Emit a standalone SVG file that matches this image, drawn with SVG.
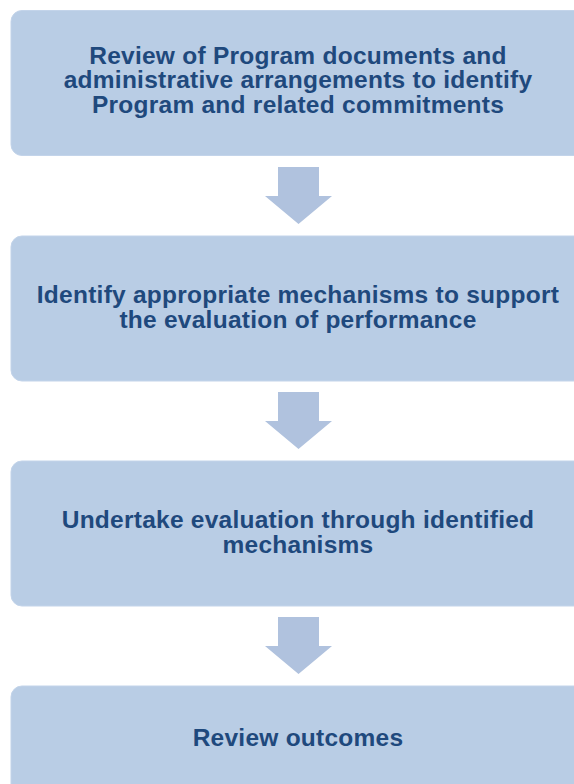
<svg xmlns="http://www.w3.org/2000/svg" width="574" height="784" viewBox="0 0 574 784">
  <style>
    .box { fill: #B9CDE5; stroke: #C3D4EA; stroke-width: 1; }
    .arrow { fill: #B0C2DE; }
    .label { font-family: "Liberation Sans", Arial, sans-serif; font-weight: bold; font-size: 24.5px; letter-spacing: 0.25px; fill: #1F497D; text-anchor: middle; }
  </style>
  <rect width="574" height="784" fill="#FFFFFF"/>
  <g id="connectors">
    <path class="arrow" d="M278,167 H319 V196 H332 L298.5,224 L265,196 H278 Z"/>
    <path class="arrow" d="M278,392 H319 V421 H332 L298.5,449 L265,421 H278 Z"/>
    <path class="arrow" d="M278,617 H319 V646 H332 L298.5,674 L265,646 H278 Z"/>
  </g>
  <g id="node1">
    <rect class="box" x="11" y="10.5" width="585" height="145" rx="11"/>
    <text class="label" x="298" y="63.5"><tspan x="298" y="63.5">Review of Program documents and</tspan><tspan x="298" y="88">administrative arrangements to identify</tspan><tspan x="298" y="112.5">Program and related commitments</tspan></text>
  </g>
  <g id="node2">
    <rect class="box" x="11" y="236" width="585" height="145" rx="11"/>
    <text class="label" x="298" y="303"><tspan x="298" y="303">Identify appropriate mechanisms to support</tspan><tspan x="298" y="327.5">the evaluation of performance</tspan></text>
  </g>
  <g id="node3">
    <rect class="box" x="11" y="461" width="585" height="145" rx="11"/>
    <text class="label" x="298" y="528"><tspan x="298" y="528">Undertake evaluation through identified</tspan><tspan x="298" y="552.5">mechanisms</tspan></text>
  </g>
  <g id="node4">
    <rect class="box" x="11" y="686" width="585" height="145" rx="11"/>
    <text class="label" x="298" y="745.5">Review outcomes</text>
  </g>
</svg>
